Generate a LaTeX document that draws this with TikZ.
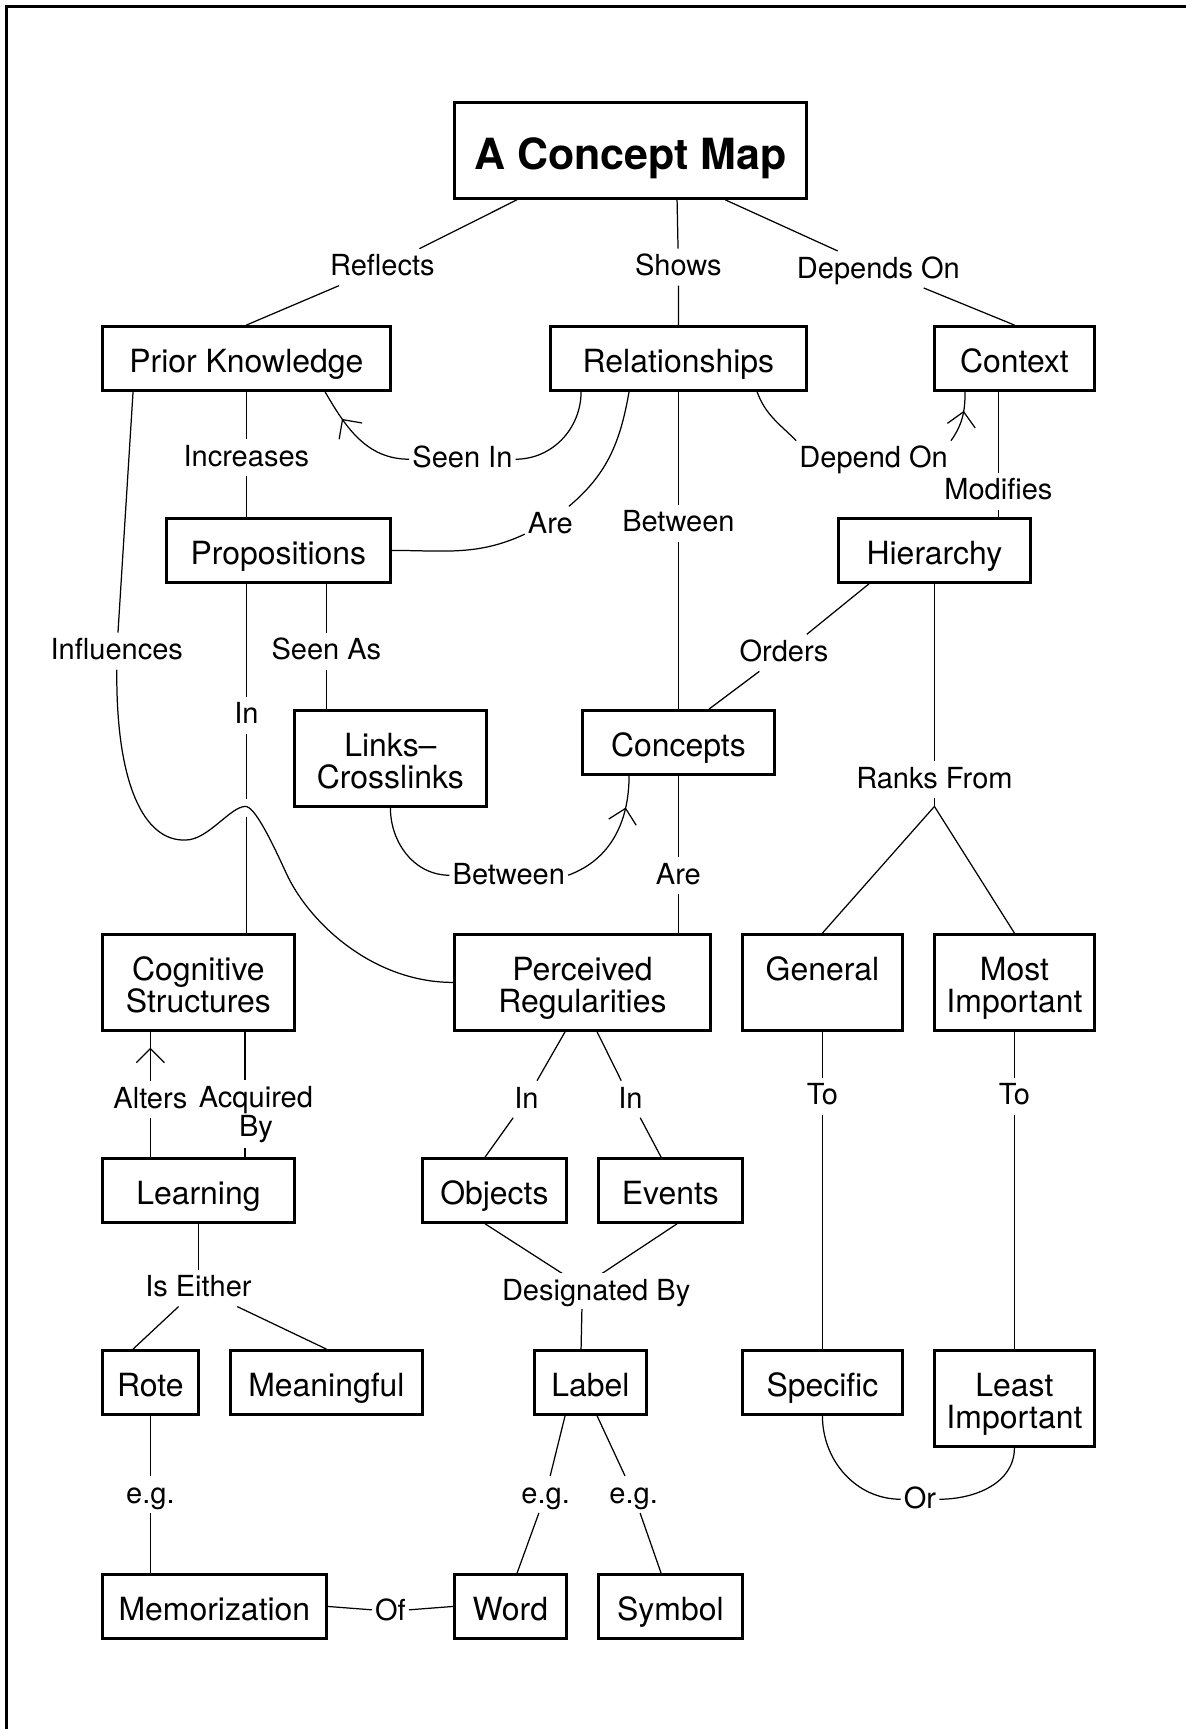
\documentclass[tikz,border=0pt]{standalone}
\usepackage{fontspec}
\setmainfont{TeX Gyre Heros}
\usetikzlibrary{arrows.meta,calc,decorations.markings}
\newcommand{\boxfont}{\fontsize{14.2pt}{14.2pt}\selectfont}
\newcommand{\lblfont}{\fontsize{12.9pt}{12.9pt}\selectfont}
\newcommand{\titlefont}{\fontsize{19.1pt}{19.1pt}\selectfont\bfseries}
\newcommand{\ustrut}{\rule{0pt}{1.14em}}

\begin{document}
\begin{tikzpicture}[x=5mm,y=5mm,line width=0.55pt,
	box/.style 2 args={draw,line width=1.2pt,inner sep=0pt,align=center,font=\boxfont,
		minimum width=#1*5mm,minimum height=#2*5mm,
		execute at begin node={\rule[-0.25em]{0pt}{1.39em}}},
	lbl/.style={fill=white,inner xsep=0.4mm,inner ysep=0.9mm,font=\lblfont,
		text height=9.3pt,text depth=1.5pt},
	midarrow/.style={postaction={decorate},decoration={markings,
		mark=at position #1 with {\arrow{Straight Barb[length=2.2mm,width=4.4mm]}}}}]
			\useasboundingbox (-0.2,0.2) rectangle (36.86,-53.83);
			\draw[line width=1pt] (36.86,0) -- (0,0) -- (0,-53.83);

			\node[box={11}{3},font=\titlefont] (title) at (19.5,-4.5) {A Concept Map};
			\node[box={9}{2}] (pk) at (7.5,-11) {Prior Knowledge};
			\node[box={8}{2}] (rel) at (21,-11) {Relationships};
			\node[box={5}{2}] (ctx) at (31.5,-11) {Context};
			\node[box={7}{2}] (prop) at (8.5,-17) {Propositions};
			\node[box={6}{2}] (hier) at (29,-17) {Hierarchy};
			\node[box={6}{3}] (links) at (12,-23.5) {\ustrut Links--\\Crosslinks};
			\node[box={6}{2}] (conc) at (21,-23) {Concepts};
			\node[box={6}{3}] (cog) at (6,-30.5) {\ustrut Cognitive\\Structures};
			\node[box={8}{3}] (perc) at (18,-30.5) {\ustrut Perceived\\Regularities};
			\node[box={5}{3}] (gen) at (25.5,-30.5) {\ustrut General\\\mbox{}};
			\node[box={5}{3}] (most) at (31.5,-30.5) {\ustrut Most\\Important};
			\node[box={6}{2}] (lrn) at (6,-37) {Learning};
			\node[box={4.5}{2}] (obj) at (15.25,-37) {Objects};
			\node[box={4.5}{2}] (ev) at (20.75,-37) {Events};
			\node[box={3}{2}] (rote) at (4.5,-43) {Rote};
			\node[box={6}{2}] (mean) at (10,-43) {Meaningful};
			\node[box={3.5}{2}] (lab) at (18.25,-43) {Label};
			\node[box={5}{2}] (spec) at (25.5,-43) {Specific};
			\node[box={5}{3}] (least) at (31.5,-43.5) {\ustrut Least\\Important};
			\node[box={7}{2}] (mem) at (6.5,-50) {Memorization};
			\node[box={3.5}{2}] (word) at (15.75,-50) {Word};
			\node[box={4.5}{2}] (sym) at (20.75,-50) {Symbol};

			\node[lbl] (reflects) at (11.75,-8.15) {Reflects};
			\node[lbl] (shows) at (21,-8.15) {Shows};
			\node[lbl] (depends) at (27.25,-8.22) {Depends On};
			\node[lbl] (incr) at (7.5,-14.1) {Increases};
			\node[lbl] (seenin) at (14.25,-14.15) {Seen In};
			\node[lbl] (dependon) at (27.1,-14.15) {Depend On};
			\node[lbl] (modif) at (31,-15.15) {Modifies};
			\node[lbl] (are) at (17,-16.2) {Are};
			\node[lbl] (btw) at (21,-16.15) {Between};
			\node[lbl] (infl) at (3.45,-20.15) {Influences};
			\node[lbl] (seenas) at (10,-20.15) {Seen As};
			\node[lbl] (orders) at (24.3,-20.2) {Orders};
			\node[lbl] (inl) at (7.5,-22.15) {In};
			\node[lbl] (ranks) at (29,-24.15) {Ranks From};
			\node[lbl] (btw2) at (15.7,-27.15) {Between};
			\node[lbl] (are2) at (21,-27.15) {Are};
			\node[lbl] (alters) at (4.5,-34.15) {Alters};
			\node[lbl] (in2) at (16.25,-34.15) {In};
			\node[lbl] (in3) at (19.5,-34.15) {In};
			\node[lbl] (to1) at (25.5,-34.05) {To};
			\node[lbl] (to2) at (31.5,-34.05) {To};
			\node[lbl] (either) at (6,-40.05) {Is Either};
			\node[lbl] (eg1) at (4.5,-46.5) {e.g.};
			\node[lbl] (eg2) at (16.85,-46.5) {e.g.};
			\node[lbl] (eg3) at (19.6,-46.5) {e.g.};
			\node[lbl] (ornode) at (28.55,-46.65) {Or};
			\node[lbl] (of) at (12,-50.15) {Of};
			\node[inner sep=0pt,minimum size=2.5mm] (jump) at (7.5,-25.05) {};
			\coordinate (fork) at (29,-25);
			\coordinate (desfork) at (18,-40);

			\draw ($(title.south west)+(2,0)$) -- (reflects) -- (pk.north);
			\draw ($(title.south west)+(7,0)$) -- (shows) -- (rel.north);
			\draw ($(title.south west)+(8.5,0)$) -- (depends) -- (ctx.north);
			\draw (pk.south -| incr) -- (incr) -- (prop.north -| incr);
			\draw ($(rel.south west)+(1,0)$) to[out=-90,in=0] (seenin.east);
			\draw[midarrow=-5mm] (seenin.west) to[out=180,in=-60] ($(pk.south west)+(7,0)$);
			\draw ($(rel.south west)+(2.5,0)$) to[out=-100,in=40] (are.45);
			\draw (are.200) to[out=-155,in=0] (prop.east);
			\draw ($(rel.south west)+(6.5,0)$) to[out=-70,in=135] (dependon.north west);
			\draw[midarrow=-3mm] (dependon.north east) to[out=55,in=-90] ($(ctx.south west)+(1,0)$);
			\draw (ctx.south -| modif) -- (modif) -- (hier.north -| modif);
			\draw (rel.south) -- (btw) -- (conc.north);
			\draw ($(pk.south west)+(1,0)$) -- (infl);
			\draw (infl.south) .. controls (3.42,-24.3) and (4.3,-26.1) .. (5.6,-26.05)
				.. controls (6.3,-26.05) and (7,-25) .. (7.47,-25)
				.. controls (7.75,-25) and (8.25,-26) .. (8.75,-27.1)
				.. controls (9.5,-28.7) and (11.5,-30.5) .. (perc.west);
			\draw (prop.south -| inl) -- (inl) -- (jump) -- (cog.north -| inl);
			\draw (prop.south -| seenas) -- (seenas) -- (links.north -| seenas);
			\draw ($(hier.south west)+(1,0)$) -- (orders) -- ($(conc.north west)+(4,0)$);
			\draw (hier.south) -- (ranks) -- (fork);
			\draw (fork) -- (gen.north);
			\draw (fork) -- (most.north);
			\draw (links.south) to[out=-90,in=180] (btw2.west);
			\draw[midarrow=-5mm] (btw2.east) to[out=20,in=-90] ($(conc.south west)+(1.5,0)$);
			\draw (conc.south) -- (are2) -- (perc.north -| conc.south);
			\draw (lrn.north -| alters) -- (alters);
			\draw[midarrow=-2.5mm] (alters) -- (cog.south -| alters);
			\draw ($(cog.south west)+(4.5,0)$) -- node[fill=white,inner xsep=0.4mm,inner ysep=0.9mm,align=center,
				font=\lblfont,pos=0.66,xshift=1.7mm] (acq) {Acquired\\By} ($(lrn.north west)+(4.5,0)$);
			\draw ($(perc.south west)+(3.5,0)$) -- (in2) -- ($(obj.north west)+(2,0)$);
			\draw ($(perc.south west)+(4.5,0)$) -- (in3) -- ($(ev.north west)+(2,0)$);
			\draw (gen.south) -- (to1) -- (spec.north);
			\draw (most.south) -- (to2) -- (least.north);
			\draw (lrn.south) -- (either);
			\draw (either) -- ($(rote.north west)+(1,0)$);
			\draw (either) -- (mean.north);
			\draw ($(obj.south west)+(2,0)$) -- (desfork) -- ($(lab.north west)+(1.5,0)$);
			\draw ($(ev.south west)+(2.5,0)$) -- (desfork);
			\node[lbl] (desig) at (18.43,-40.15) {Designated By};
			\draw (rote.south) -- (eg1) -- (mem.north -| rote.south);
			\draw ($(lab.south west)+(1,0)$) -- (eg2) -- ($(word.north west)+(2,0)$);
			\draw ($(lab.south west)+(2,0)$) -- (eg3) -- ($(sym.north west)+(2,0)$);
			\draw (mem.east) -- (of) -- (word.west);
			\draw (spec.south) to[out=-90,in=180] (ornode.west);
			\draw (ornode.east) to[out=0,in=-90] (least.south);
			\end{tikzpicture}
\end{document}
